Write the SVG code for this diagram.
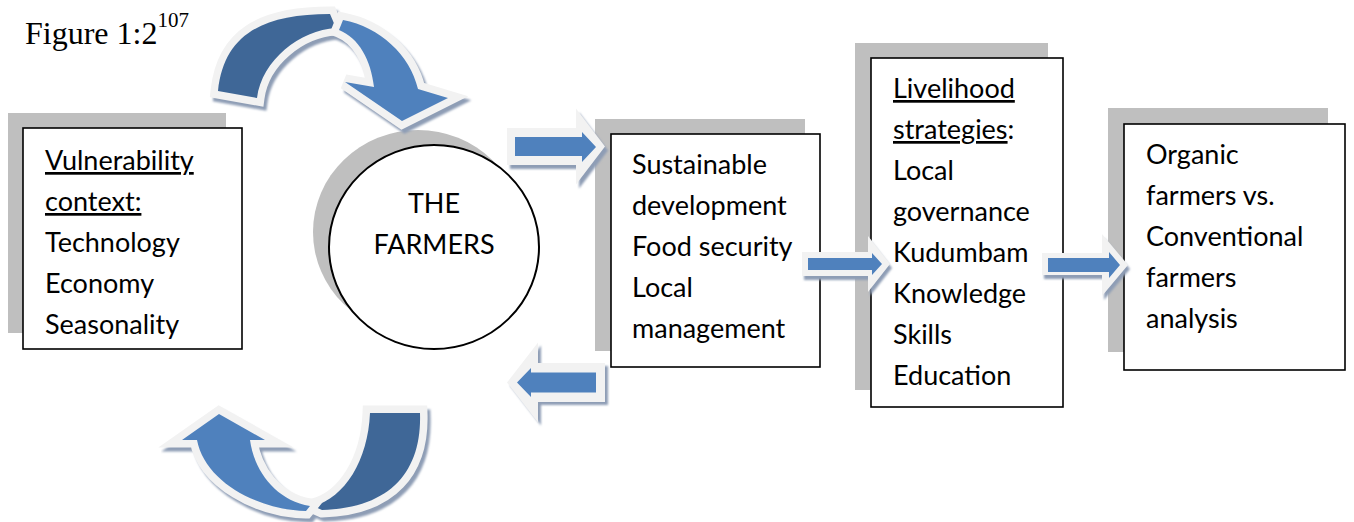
<svg xmlns="http://www.w3.org/2000/svg" width="1354" height="522" viewBox="0 0 1354 522">
  <defs>
    <style>
      .lbl{font-family:Lato,"Open Sans",sans-serif;font-size:27px;fill:#000}
      .u{text-decoration:underline}
      .boxshadow{fill:#bfbfbf}
      .box{fill:#fff;stroke:#000;stroke-width:1.6}
      .frame{fill:#f2f2f2}
      .blue{fill:#4f81bd}
      .dark{fill:#3f6797}
      .shd{fill:#8e9db5}
      .cband{stroke:#f2f2f2;stroke-width:15;stroke-linejoin:miter;paint-order:stroke}
      .cshd{fill:#8e9db5;stroke:#8e9db5;stroke-width:15;stroke-linejoin:miter}
    </style>
    <filter id="soft" x="-10%" y="-10%" width="120%" height="120%">
      <feGaussianBlur stdDeviation="0.8"/>
    </filter>
  </defs>

  <rect width="1354" height="522" fill="#fff"/>

  <!-- caption -->
  <text x="25" y="44" font-family="Liberation Serif, serif" font-size="32">Figure 1:2<tspan font-size="21" dy="-17">107</tspan></text>

  <!-- Vulnerability context -->
  <g id="vulnerability">
    <rect class="boxshadow" x="8" y="113" width="218" height="220"/>
    <rect class="box" x="23" y="128" width="219" height="221"/>
    <text class="lbl" x="45" y="170"><tspan class="u">Vulnerability</tspan></text>
    <text class="lbl" x="45" y="211"><tspan class="u">context:</tspan></text>
    <text class="lbl" x="45" y="252">Technology</text>
    <text class="lbl" x="45" y="293">Economy</text>
    <text class="lbl" x="45" y="334">Seasonality</text>
  </g>

  <!-- The farmers -->
  <g id="farmers">
    <ellipse cx="418" cy="232" rx="105" ry="102" fill="#bfbfbf"/>
    <ellipse cx="434" cy="247" rx="105" ry="102" fill="#fff" stroke="#000" stroke-width="2"/>
    <text class="lbl" x="434" y="213" text-anchor="middle">THE</text>
    <text class="lbl" x="434" y="254" text-anchor="middle">FARMERS</text>
  </g>

  <!-- Outcomes -->
  <g id="outcomes">
    <rect class="boxshadow" x="595" y="119" width="210" height="232"/>
    <rect class="box" x="611" y="134" width="209" height="233"/>
    <text class="lbl" x="632" y="174">Sustainable</text>
    <text class="lbl" x="632" y="215">development</text>
    <text class="lbl" x="632" y="256">Food security</text>
    <text class="lbl" x="632" y="297">Local</text>
    <text class="lbl" x="632" y="338">management</text>
  </g>

  <!-- Livelihood strategies -->
  <g id="strategies">
    <rect class="boxshadow" x="855" y="43" width="193" height="347"/>
    <rect class="box" x="871" y="58" width="192" height="349"/>
    <text class="lbl" x="893" y="98"><tspan class="u">Livelihood</tspan></text>
    <text class="lbl" x="893" y="139"><tspan class="u">strategies</tspan>:</text>
    <text class="lbl" x="893" y="180">Local</text>
    <text class="lbl" x="893" y="221">governance</text>
    <text class="lbl" x="893" y="262">Kudumbam</text>
    <text class="lbl" x="893" y="303">Knowledge</text>
    <text class="lbl" x="893" y="344">Skills</text>
    <text class="lbl" x="893" y="385">Education</text>
  </g>

  <!-- Analysis -->
  <g id="analysis">
    <rect class="boxshadow" x="1108" y="108" width="220" height="244"/>
    <rect class="box" x="1124" y="124" width="221" height="246"/>
    <text class="lbl" x="1146" y="164">Organic</text>
    <text class="lbl" x="1146" y="205">farmers vs.</text>
    <text class="lbl" x="1146" y="246">Conventional</text>
    <text class="lbl" x="1146" y="287">farmers</text>
    <text class="lbl" x="1146" y="328">analysis</text>
  </g>

  <!-- connectors -->
  <g id="connectors">
    <!-- curved arrow over the top, feeding the farmers -->
    <g id="cycle-top">
      <g transform="translate(3,4)" filter="url(#soft)">
        <path class="cshd" d="M218,91 C224,35 262,14 330,14 L336,28 C300,30 262,60 257,98 Z"/>
        <path class="cshd" d="M343,20 C380,27 410,55 418,89 L448,98 L402,121 L345,82 L374,87 C371,60 359,38 339,30 Z"/>
      </g>
      <path class="dark cband" d="M218,91 C224,35 262,14 330,14 L336,28 C300,30 262,60 257,98 Z"/>
      <path class="blue cband" d="M343,20 C380,27 410,55 418,89 L448,98 L402,121 L345,82 L374,87 C371,60 359,38 339,30 Z"/>
    </g>

    <!-- curved arrow underneath, returning to the vulnerability context -->
    <g id="cycle-bottom">
      <g transform="translate(3,4)" filter="url(#soft)">
        <path class="cshd" d="M370,413 L420,413 C422,470 392,508 322,510 L313,506 C345,498 368,460 370,413 Z"/>
        <path class="cshd" d="M306,511 C258,510 205,482 197,440 L182,440 L219,414 L265,440 L250,440 C254,470 275,500 310,506 Z"/>
      </g>
      <path class="dark cband" d="M370,413 L420,413 C422,470 392,508 322,510 L313,506 C345,498 368,460 370,413 Z"/>
      <path class="blue cband" d="M306,511 C258,510 205,482 197,440 L182,440 L219,414 L265,440 L250,440 C254,470 275,500 310,506 Z"/>
    </g>

    <!-- farmers to outcomes -->
    <g id="arrow-farmers-outcomes">
      <path class="shd" filter="url(#soft)" transform="translate(3,4)" d="M507,128 L576,128 L576,108.5 L605,146.5 L576,184.5 L576,165 L507,165 Z"/>
      <path class="frame" d="M507,128 L576,128 L576,108.5 L605,146.5 L576,184.5 L576,165 L507,165 Z"/>
      <path class="blue" d="M515,137 L582,137 L582,132 L596,147 L582,162 L582,156 L515,156 Z"/>
    </g>

    <!-- outcomes back to farmers -->
    <g id="arrow-outcomes-farmers">
      <path class="shd" filter="url(#soft)" transform="translate(3,3)" d="M605,363 L538,363 L538,342.5 L507,382.5 L538,422.5 L538,402 L605,402 Z"/>
      <path class="frame" d="M605,363 L538,363 L538,342.5 L507,382.5 L538,422.5 L538,402 L605,402 Z"/>
      <path class="blue" d="M596,372.5 L531,372.5 L531,368 L517,382.5 L531,397 L531,392.5 L596,392.5 Z"/>
    </g>

    <!-- outcomes to strategies -->
    <g id="arrow-outcomes-strategies">
      <path class="shd" filter="url(#soft)" transform="translate(2,4)" d="M802,252 L868,252 L868,236 L890,264 L868,292 L868,276 L802,276 Z"/>
      <path class="frame" d="M802,252 L868,252 L868,236 L890,264 L868,292 L868,276 L802,276 Z"/>
      <path class="blue" d="M808,258 L872,258 L872,253 L882,264 L872,275 L872,270 L808,270 Z"/>
    </g>

    <!-- strategies to analysis -->
    <g id="arrow-strategies-analysis">
      <path class="shd" filter="url(#soft)" transform="translate(2,4)" d="M1042,253 L1102,253 L1102,234 L1128,265 L1102,296 L1102,275 L1042,275 Z"/>
      <path class="frame" d="M1042,253 L1102,253 L1102,234 L1128,265 L1102,296 L1102,275 L1042,275 Z"/>
      <path class="blue" d="M1048,258 L1109,258 L1109,252 L1120,265 L1109,278 L1109,272 L1048,272 Z"/>
    </g>
  </g>
</svg>
